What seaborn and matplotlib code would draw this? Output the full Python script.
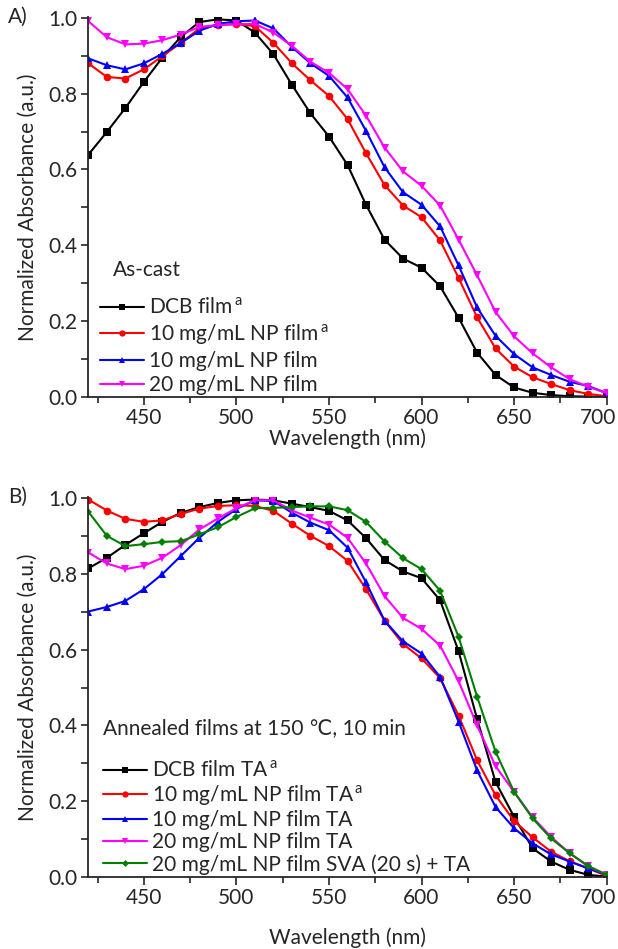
import numpy as np
import pandas as pd
import seaborn as sns
import matplotlib.pyplot as plt
from matplotlib.lines import Line2D
from matplotlib.ticker import MultipleLocator
from matplotlib.transforms import ScaledTranslation

# wavelength grid (nm)
wavelength = [420, 430, 440, 450, 460, 470, 480, 490, 500, 510,
              520, 530, 540, 550, 560, 570, 580, 590, 600, 610,
              620, 630, 640, 650, 660, 670, 680, 690, 700]

# ---- panel A: as-cast ----
a_dcb = [0.639, 0.699, 0.762, 0.831, 0.895, 0.950, 0.989, 0.996, 0.993, 0.961,
         0.904, 0.823, 0.748, 0.687, 0.612, 0.507, 0.415, 0.365, 0.341, 0.292,
         0.209, 0.117, 0.058, 0.025, 0.011, 0.005, 0.002, 0.001, 0.000]
a_np10a = [0.880, 0.844, 0.840, 0.864, 0.899, 0.934, 0.972, 0.981, 0.984, 0.978,
           0.934, 0.880, 0.835, 0.794, 0.733, 0.643, 0.559, 0.505, 0.474, 0.413,
           0.314, 0.210, 0.128, 0.080, 0.052, 0.034, 0.018, 0.008, 0.002]
a_np10 = [0.893, 0.875, 0.864, 0.880, 0.905, 0.934, 0.966, 0.984, 0.991, 0.993,
          0.972, 0.923, 0.880, 0.847, 0.790, 0.702, 0.606, 0.540, 0.507, 0.450,
          0.347, 0.236, 0.161, 0.113, 0.078, 0.058, 0.040, 0.029, 0.010]
a_np20 = [0.991, 0.949, 0.930, 0.932, 0.941, 0.956, 0.976, 0.981, 0.983, 0.984,
          0.961, 0.926, 0.884, 0.855, 0.812, 0.742, 0.658, 0.595, 0.557, 0.505,
          0.415, 0.321, 0.224, 0.160, 0.115, 0.078, 0.047, 0.027, 0.010]

# ---- panel B: annealed ----
b_dcb = [0.815, 0.843, 0.877, 0.908, 0.938, 0.962, 0.977, 0.988, 0.995, 0.997,
         0.995, 0.986, 0.977, 0.967, 0.942, 0.895, 0.837, 0.807, 0.789, 0.731,
         0.596, 0.417, 0.250, 0.158, 0.075, 0.040, 0.018, 0.005, 0.000]
b_np10a = [0.997, 0.968, 0.946, 0.938, 0.942, 0.959, 0.973, 0.980, 0.982, 0.980,
           0.967, 0.933, 0.901, 0.874, 0.835, 0.760, 0.677, 0.615, 0.577, 0.525,
           0.426, 0.308, 0.215, 0.147, 0.104, 0.066, 0.041, 0.022, 0.002]
b_np10 = [0.701, 0.713, 0.729, 0.760, 0.800, 0.848, 0.896, 0.938, 0.972, 0.995,
          0.993, 0.962, 0.936, 0.916, 0.870, 0.778, 0.677, 0.622, 0.590, 0.528,
          0.410, 0.281, 0.184, 0.128, 0.088, 0.059, 0.040, 0.022, 0.005]
b_np20 = [0.857, 0.828, 0.813, 0.822, 0.843, 0.877, 0.918, 0.947, 0.974, 0.995,
          0.995, 0.968, 0.949, 0.931, 0.896, 0.828, 0.742, 0.684, 0.655, 0.611,
          0.517, 0.400, 0.292, 0.224, 0.157, 0.105, 0.062, 0.028, 0.005]
b_sva = [0.965, 0.901, 0.874, 0.879, 0.885, 0.887, 0.905, 0.924, 0.951, 0.974,
         0.975, 0.977, 0.979, 0.979, 0.969, 0.938, 0.886, 0.842, 0.813, 0.756,
         0.634, 0.476, 0.330, 0.224, 0.154, 0.101, 0.062, 0.028, 0.005]

labels_a = [r'DCB film$^{\,\mathrm{a}}$', r'10 mg/mL NP film$^{\,\mathrm{a}}$',
            '10 mg/mL NP film', '20 mg/mL NP film']
labels_b = [r'DCB film TA$^{\,\mathrm{a}}$', r'10 mg/mL NP film TA$^{\,\mathrm{a}}$',
            '10 mg/mL NP film TA', '20 mg/mL NP film TA',
            '20 mg/mL NP film SVA (20 s) + TA']
colors = ['black', '#ff0000', '#0000ff', '#ff00ff', '#008000']
markers = ['s', 'o', '^', 'v', 'D']

FS = 15

sns.set_style("ticks")
plt.rcParams['font.family'] = ['Lato', 'DejaVu Sans']
plt.rcParams['mathtext.fontset'] = 'custom'
plt.rcParams['mathtext.rm'] = 'Lato'
plt.rcParams['font.size'] = FS

fig = plt.figure(figsize=(6.18, 9.49), dpi=100)
ax1 = fig.add_axes([0.1429, 0.5817, 0.8388, 0.4007])
ax2 = fig.add_axes([0.1429, 0.0762, 0.8388, 0.3998])


def draw_panel(ax, series, labels, note, note_xy, leg_x, spacing, xlabelpad):
    handles = []
    for i, ys in enumerate(series):
        df = pd.DataFrame({'wl': wavelength, 'abs': ys})
        sns.lineplot(data=df, x='wl', y='abs', ax=ax, color=colors[i],
                     marker=markers[i], markersize=5.5 if markers[i] != 'D' else 4.5,
                     markeredgewidth=0, linewidth=1.5, sort=False)
        handles.append(Line2D([], [], color=colors[i], marker=markers[i],
                              markersize=4.5 if markers[i] != 'D' else 3.5,
                              markeredgewidth=0, linewidth=1.5))
    ax.set_xlim(420, 700)
    ax.set_ylim(0, 1.003)
    ax.xaxis.set_major_locator(MultipleLocator(50))
    ax.xaxis.set_minor_locator(MultipleLocator(25))
    ax.yaxis.set_major_locator(MultipleLocator(0.2))
    ax.yaxis.set_minor_locator(MultipleLocator(0.1))
    ax.yaxis.set_major_formatter(plt.FormatStrFormatter('%.1f'))
    ax.tick_params(axis='x', which='major', length=6, width=1.2, labelsize=FS, pad=2)
    ax.tick_params(axis='x', which='minor', length=4, width=1.2)
    ax.tick_params(axis='y', which='both', length=5, width=1.2, labelsize=FS, pad=3)
    for s in ['left', 'bottom']:
        ax.spines[s].set_linewidth(1.3)
    sns.despine(ax=ax)
    ax.set_xlabel('Wavelength (nm)', fontsize=FS, labelpad=xlabelpad)
    ax.set_ylabel('Normalized Absorbance (a.u.)', fontsize=FS, labelpad=7)
    ax.text(note_xy[0], note_xy[1], note, transform=ax.transAxes,
            fontsize=FS, va='center', ha='left')
    ax.legend(handles, labels, loc='lower left', bbox_to_anchor=(leg_x, 0.005),
              frameon=False, fontsize=FS, handlelength=2.1, handletextpad=0.25,
              labelspacing=spacing, borderpad=0, borderaxespad=0)
    # last tick label sits slightly inside the figure edge, as in the source
    shift = ScaledTranslation(-9 / 100, 0, fig.dpi_scale_trans)
    for lab in ax.get_xticklabels():
        if lab.get_text() == '700':
            lab.set_transform(lab.get_transform() + shift)


draw_panel(ax1, [a_dcb, a_np10a, a_np10, a_np20], labels_a,
           'As-cast', (0.048, 0.334), 0.0226, 0.2, 0)
draw_panel(ax2, [b_dcb, b_np10a, b_np10, b_np20, b_sva], labels_b,
           'Annealed films at 150 \u2103, 10 min', (0.028, 0.392), 0.028, 0.1, 14)

fig.text(0.013, 0.982, 'A)', fontsize=FS, va='center')
fig.text(0.013, 0.476, 'B)', fontsize=FS, va='center')

fig.savefig('out.png', dpi=100)
